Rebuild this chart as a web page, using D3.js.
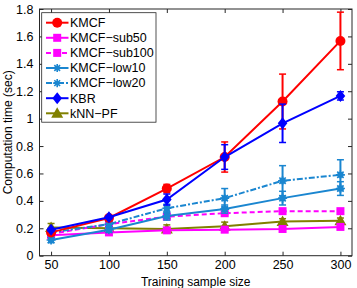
<!DOCTYPE html>
<html><head><meta charset="utf-8">
<script src="https://cdn.jsdelivr.net/npm/d3@7"></script>
<style>body{margin:0;background:#fff}svg{display:block}text{font-family:"Liberation Sans",Arial,sans-serif}</style>
</head><body><svg id="c" width="357" height="288"></svg>
<script>
const sizes = [50, 100, 150, 200, 250, 300];
const kmcf      = [0.17, 0.275, 0.49, 0.72, 1.125, 1.567];
const kmcfErr   = [0.01, 0.01, 0.03, 0.11, 0.20, 0.21];
const sub50     = [0.15, 0.17, 0.185, 0.19, 0.195, 0.21];
const sub50Err  = [0.01, 0.01, 0.01, 0.01, 0.01, 0.01];
const sub100    = [0.16, 0.23, 0.285, 0.31, 0.325, 0.325];
const sub100Err = [0.01, 0.01, 0.01, 0.01, 0.01, 0.01];
const low10     = [0.115, 0.19, 0.29, 0.34, 0.42, 0.49];
const low10Err  = [0.02, 0.02, 0.03, 0.03, 0.05, 0.05];
const low20     = [0.17, 0.23, 0.346, 0.42, 0.547, 0.59];
const low20Err  = [0.02, 0.02, 0.03, 0.07, 0.11, 0.11];
const kbr       = [0.19, 0.28, 0.41, 0.72, 0.966, 1.166];
const kbrErr    = [0.01, 0.01, 0.04, 0.09, 0.14, 0.03];
const knn       = [0.205, 0.2, 0.195, 0.215, 0.25, 0.255];
const knnErr    = [0.03, 0.02, 0.03, 0.03, 0.02, 0.02];
const seriesNames = ["KMCF", "KMCF\u2212sub50", "KMCF\u2212sub100", "KMCF\u2212low10", "KMCF\u2212low20", "KBR", "kNN\u2212PF"];
const xTicks = [50, 100, 150, 200, 250, 300];
const yTicks = [0, 0.2, 0.4, 0.6, 0.8, 1, 1.2, 1.4, 1.6, 1.8];

const series = [
  {name: seriesNames[0], v: kmcf, e: kmcfErr, color: "#ff0000", dash: null, marker: "circle"},
  {name: seriesNames[1], v: sub50, e: sub50Err, color: "#ff00ff", dash: null, marker: "square"},
  {name: seriesNames[2], v: sub100, e: sub100Err, color: "#ff00ff", dash: "5,3", marker: "square"},
  {name: seriesNames[3], v: low10, e: low10Err, color: "#1a86d0", dash: null, marker: "star"},
  {name: seriesNames[4], v: low20, e: low20Err, color: "#1a86d0", dash: "6,2,2,2", marker: "star"},
  {name: seriesNames[5], v: kbr, e: kbrErr, color: "#0000ff", dash: null, marker: "diamond"},
  {name: seriesNames[6], v: knn, e: knnErr, color: "#808000", dash: null, marker: "triangle"}
];
const drawOrder = [6, 1, 2, 3, 4, 0, 5];

const svg = d3.select("#c");
const L = 39.5, R = 352, T = 9, B = 255.7;
const x = d3.scaleLinear().domain([40, 310]).range([L, R]);
const y = d3.scaleLinear().domain([0, 1.8]).range([B, T]);

svg.append("rect").attr("x", L).attr("y", T).attr("width", R - L).attr("height", B - T)
  .attr("fill", "#fff").attr("stroke", "#262626").attr("stroke-width", 1);

const gx = svg.append("g").attr("transform", `translate(0,${B})`)
  .call(d3.axisBottom(x).tickValues(xTicks).tickSize(-4).tickPadding(4).tickFormat(d3.format("d")));
const gxt = svg.append("g").attr("transform", `translate(0,${T})`)
  .call(d3.axisTop(x).tickValues(xTicks).tickSize(-4).tickFormat(""));
const gy = svg.append("g").attr("transform", `translate(${L},0)`)
  .call(d3.axisLeft(y).tickValues(yTicks).tickSize(-4).tickPadding(6).tickFormat(d => d === 0 || d === 1 ? String(d) : d3.format(".1f")(d)));
const gyr = svg.append("g").attr("transform", `translate(${R},0)`)
  .call(d3.axisRight(y).tickValues(yTicks).tickSize(-4).tickFormat(""));
[gx, gxt, gy, gyr].forEach(g => {
  g.select(".domain").remove();
  g.selectAll(".tick line").attr("stroke", "#262626");
  g.selectAll("text").attr("fill", "#000").style("font-size", "12.5px");
});

svg.append("text").attr("x", (L + R) / 2).attr("y", 285.5).attr("text-anchor", "middle")
  .style("font-size", "12px").text("Training sample size");
svg.append("text").attr("transform", `translate(12,${(T + B) / 2}) rotate(-90)`).attr("text-anchor", "middle")
  .style("font-size", "12px").text("Computation time (sec)");

function drawMarker(g, type, cx, cy, color, scale) {
  scale = scale || 1;
  if (type === "circle") {
    g.append("circle").attr("cx", cx).attr("cy", cy).attr("r", 5 * scale).attr("fill", color);
  } else if (type === "square") {
    const s = 8 * scale;
    g.append("rect").attr("x", cx - s / 2).attr("y", cy - s / 2).attr("width", s).attr("height", s).attr("fill", color);
  } else if (type === "diamond") {
    const s = 6 * scale;
    g.append("path").attr("d", `M${cx},${cy - s}L${cx + s * 0.8},${cy}L${cx},${cy + s}L${cx - s * 0.8},${cy}Z`).attr("fill", color);
  } else if (type === "triangle") {
    const s = 6 * scale;
    g.append("path").attr("d", `M${cx},${cy - s}L${cx + s},${cy + s * 0.75}L${cx - s},${cy + s * 0.75}Z`).attr("fill", color);
  } else if (type === "star") {
    const s = 4.5 * scale;
    const p = [];
    for (let i = 0; i < 4; i++) {
      const a = i * Math.PI / 4;
      p.push(`M${cx - s * Math.cos(a)},${cy - s * Math.sin(a)}L${cx + s * Math.cos(a)},${cy + s * Math.sin(a)}`);
    }
    g.append("path").attr("d", p.join("")).attr("stroke", color).attr("stroke-width", 1.6).attr("fill", "none");
    if (scale >= 1) g.append("circle").attr("cx", cx).attr("cy", cy).attr("r", 3.2).attr("fill", color);
  }
}

const line = d3.line().x((d, i) => x(sizes[i])).y(d => y(d));
drawOrder.forEach(k => {
  const s = series[k];
  const g = svg.append("g");
  g.append("path").datum(s.v).attr("d", line).attr("fill", "none").attr("stroke", s.color)
    .attr("stroke-width", 2).attr("stroke-dasharray", s.dash);
  s.v.forEach((v, i) => {
    const cx = x(sizes[i]);
    const y1 = y(v + s.e[i]), y0 = y(v - s.e[i]);
    g.append("line").attr("x1", cx).attr("x2", cx).attr("y1", y1).attr("y2", y0).attr("stroke", s.color).attr("stroke-width", 2);
    g.append("line").attr("x1", cx - 3.5).attr("x2", cx + 3.5).attr("y1", y1).attr("y2", y1).attr("stroke", s.color).attr("stroke-width", 1.5);
    g.append("line").attr("x1", cx - 3.5).attr("x2", cx + 3.5).attr("y1", y0).attr("y2", y0).attr("stroke", s.color).attr("stroke-width", 1.5);
    drawMarker(g, s.marker, cx, y(v), s.color);
  });
});

const lg = svg.append("g");
lg.append("rect").attr("x", 41.7).attr("y", 12.7).attr("width", 114.3).attr("height", 109.5)
  .attr("fill", "#fff").attr("stroke", "#262626").attr("stroke-width", 0.8);
series.forEach((s, i) => {
  const ly = 22.7 + i * 15.1;
  lg.append("line").attr("x1", 46).attr("x2", 68.5).attr("y1", ly).attr("y2", ly)
    .attr("stroke", s.color).attr("stroke-width", 2).attr("stroke-dasharray", s.dash);
  drawMarker(lg, s.marker, 57.2, ly, s.color, s.marker === "star" ? 0.9 : 1);
  lg.append("text").attr("x", 70).attr("y", ly + 4.3).style("font-size", "12.5px").text(s.name);
});
</script></body></html>
